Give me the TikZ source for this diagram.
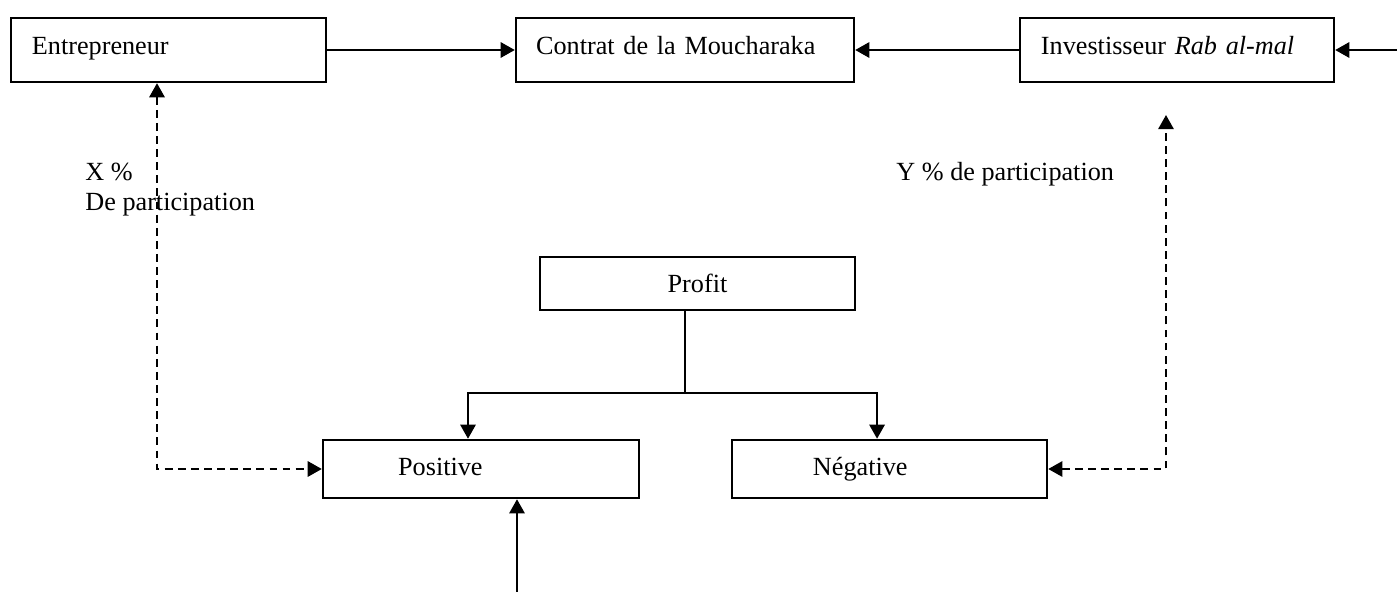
\documentclass[tikz,border=0pt]{standalone}
\usepackage{fontspec}
\setmainfont{Liberation Serif}
\usepackage{tikz}
\usetikzlibrary{arrows.meta,positioning}
\tikzset{
  deal-box/.style={draw=black, line width=1.1pt, fill=white, align=left, inner ysep=0pt},
  deal-top/.style={deal-box, minimum height=29.3pt, text height=8.5pt, text depth=4.5pt},
  deal-low/.style={deal-box, minimum height=26.6pt, text height=8.5pt, text depth=2.5pt},
  deal-flow/.style={line width=1.1pt},
  deal-share/.style={line width=1.1pt, dash pattern=on 3.6pt off 2.4pt},
  deal-note/.style={inner sep=0pt, align=left}
}

\begin{document}
\begin{tikzpicture}[x=0.458pt, y=-0.458pt, >={Triangle[length=6.5pt,width=7pt]},
  font=\fontsize{12}{13.7}\selectfont]
  \useasboundingbox (0,0) rectangle (1397,592);
  \node[deal-top, text width=125.1pt, inner xsep=9.6pt] (entre) at (168.5,50) {Entrepreneur};
  \node[deal-top, text width=136.4pt, inner xsep=9.2pt] (contrat) at (685,50) {Contrat de la Moucharaka};
  \node[deal-top, text width=124.6pt, inner xsep=9.6pt] (invest) at (1177,50) {Investisseur \textit{Rab al-mal}};
  \node[deal-box, align=center, minimum width=144.3pt, minimum height=24.3pt] (profit) at (697.5,283.5) {Profit};
  \node[deal-low, text width=75.9pt, inner xsep=34.4pt] (pos) at (481,469) {Positive};
  \node[deal-low, text width=70.1pt, inner xsep=37.1pt] (neg) at (889.5,469) {Négative};
  \node[deal-note, anchor=north west] (xpart) at (85,163) {X \%\\De participation};
  \node[deal-note, anchor=base west] (ypart) at (896,180) {Y \% de participation};
  \coordinate (edge) at (1397,50);
  \coordinate (split) at (685,393);
  \coordinate (x-rail) at (157,465);
  \coordinate (y-tip) at (1166,115);
  \coordinate (base) at (517,592);
  \draw[deal-flow, ->] (entre.east) -- (contrat.west);
  \draw[deal-flow, ->] (invest.west) -- (contrat.east);
  \draw[deal-flow, ->] (edge) -- (invest.east);
  \draw[deal-flow] (profit.south -| split) -- (split);
  \draw[deal-flow, ->] (split) -| ([xshift=-5.95pt]pos.north);
  \draw[deal-flow, ->] (split) -| ([xshift=-5.7pt]neg.north);
  \draw[deal-flow, ->] (base) -- (base |- pos.south);
  \draw[deal-share, <->] (entre.south -| x-rail) |- (pos.west);
  \draw[deal-share, <->] (neg.east) -| (y-tip);
\end{tikzpicture}
\end{document}
